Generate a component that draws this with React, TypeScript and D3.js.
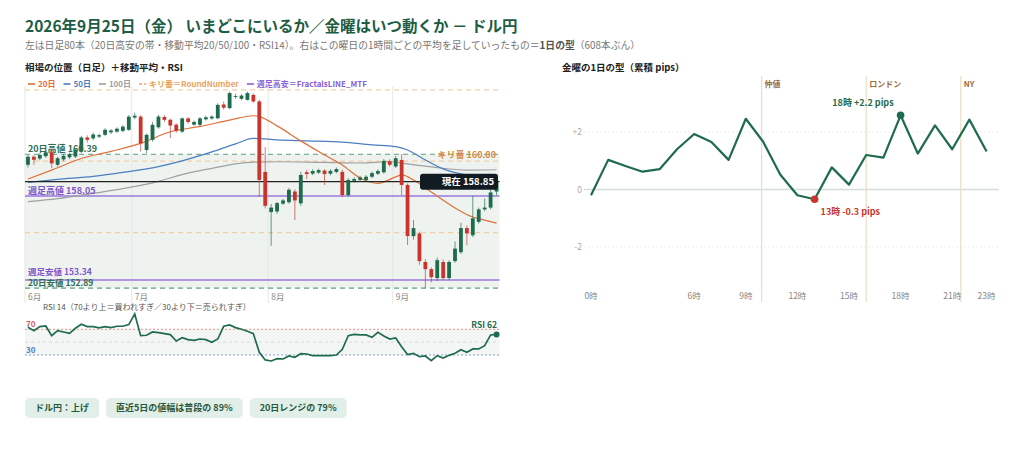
import * as d3 from "d3";

const FONT = "'Noto Sans CJK JP', 'Noto Sans', sans-serif";

// 日足80本 (6/8 〜 9/25)
const months = [
  { label: "6月", start: 0 },
  { label: "7月", start: 18 },
  { label: "8月", start: 41 },
  { label: "9月", start: 62 },
];

const opens = [
  159.8, 160.25, 160.15, 160.28, 160.5, 159.8, 160.1, 160.22, 160.26, 160.54,
  161.33, 161.28, 161.38, 161.48, 161.62, 161.66, 161.7, 161.76, 162.45, 162.5,
  160.63, 161.2, 161.9, 162.48, 162.32, 162.05, 161.66, 162.4, 162.05, 162.04,
  162.35, 162.4, 162.41, 163.18, 162.98, 163.6, 163.5, 163.44, 163.72, 163.35,
  159.4, 157.15, 157.18, 157.62, 157.7, 158.3, 157.64, 159.38, 159.3, 159.36,
  159.48, 159.3, 159.4, 159.4, 158.1, 158.9, 158.95, 158.95, 159.13, 159.3,
  159.38, 160.0, 159.7, 160.07, 158.67, 155.8, 155.95, 154.35, 153.95, 153.45,
  154.35, 153.45, 154.4, 154.9, 156.25, 155.85, 156.6, 157.3, 157.4, 158.3,
];
const highs = [
  160.35, 160.32, 160.45, 160.6, 160.62, 160.25, 160.4, 160.48, 160.72, 161.42,
  161.45, 161.6, 161.55, 161.85, 161.8, 161.9, 162.02, 162.58, 162.72, 162.58,
  161.55, 162.2, 162.6, 162.58, 162.38, 162.12, 162.45, 162.48, 162.28, 162.48,
  162.55, 162.58, 163.25, 163.35, 163.9, 163.78, 163.75, 163.9, 163.8, 163.45,
  160.8, 157.6, 157.72, 157.88, 158.5, 158.42, 159.4, 159.52, 159.55, 159.58,
  159.55, 159.55, 159.65, 159.52, 159.05, 159.1, 159.18, 159.22, 159.42, 159.55,
  160.12, 160.1, 160.3, 160.39, 158.75, 156.7, 156.05, 154.5, 154.05, 154.6,
  154.5, 154.45, 155.5, 156.55, 156.4, 158.05, 157.4, 157.9, 158.4, 159.0,
];
const lows = [
  159.65, 159.8, 160.05, 160.2, 159.6, 159.7, 160.0, 160.12, 160.18, 160.45,
  161.05, 161.18, 161.3, 161.4, 161.52, 161.58, 161.62, 161.7, 162.35, 160.54,
  160.46, 161.1, 161.82, 162.2, 161.3, 161.6, 161.58, 162.1, 161.98, 161.95,
  162.28, 162.32, 162.35, 162.9, 162.92, 163.5, 163.42, 163.4, 163.28, 158.0,
  157.35, 155.25, 157.05, 157.55, 157.62, 156.7, 157.5, 159.0, 159.22, 159.28,
  158.67, 159.2, 159.32, 158.0, 158.02, 158.8, 158.85, 158.88, 159.05, 159.22,
  159.3, 159.7, 159.62, 158.1, 155.3, 155.6, 154.2, 152.89, 153.2, 153.3,
  153.35, 153.34, 154.3, 154.8, 155.3, 155.75, 156.5, 157.2, 157.3, 158.1,
];
const closes = [
  160.25, 160.08, 160.35, 160.5, 159.88, 160.17, 160.3, 160.4, 160.63, 161.33,
  161.2, 161.5, 161.46, 161.76, 161.72, 161.82, 161.94, 162.5, 162.55, 161.0,
  161.48, 162.04, 162.5, 162.32, 162.0, 161.7, 162.4, 162.2, 162.2, 162.4,
  162.46, 162.5, 163.16, 163.0, 163.82, 163.65, 163.68, 163.82, 163.35, 158.95,
  157.5, 157.4, 157.65, 157.8, 158.4, 157.8, 159.23, 159.28, 159.45, 159.5,
  159.28, 159.46, 159.56, 158.1, 158.95, 159.0, 159.1, 159.13, 159.33, 159.45,
  160.02, 159.8, 160.17, 158.67, 155.8, 156.25, 154.4, 153.95, 153.5, 154.45,
  153.45, 154.35, 155.1, 156.25, 155.95, 156.8, 157.3, 157.4, 158.25, 158.85,
];

// 移動平均（画像から読んだ値: [本目, 値]）
const ma20 = [
  [0, 159.0], [4, 159.5], [9, 160.15], [14, 160.55], [19, 161.0], [24, 161.65],
  [29, 161.95], [34, 162.3], [38, 162.55], [39, 162.5], [42, 161.98], [46, 161.14],
  [50, 160.35], [53, 159.79], [56, 159.06], [59, 158.76], [62, 159.12], [63, 159.23],
  [65, 158.95], [68, 158.27], [72, 157.38], [75, 156.87], [77, 156.7], [79, 156.53],
];
const ma50 = [
  [0, 158.81], [5, 158.98], [11, 159.15], [16, 159.37], [22, 159.7], [26, 160.02],
  [31, 160.52], [35, 160.97], [38, 161.28], [42, 161.2], [47, 161.14], [53, 161.07],
  [58, 160.92], [62, 160.82], [64, 160.63], [67, 160.07], [70, 159.57], [73, 159.29],
  [76, 159.12], [79, 158.95],
];
const ma100 = [
  [0, 157.73], [5, 157.9], [11, 158.2], [16, 158.46], [22, 158.87], [26, 159.25],
  [31, 159.6], [35, 159.85], [38, 159.95], [42, 159.97], [50, 159.93], [56, 159.9],
  [61, 159.97], [64, 159.85], [67, 159.72], [70, 159.6], [74, 159.5], [79, 159.52],
];

const rsi = [
  73.1, 67.9, 74.2, 75.2, 60.1, 67.9, 65.8, 63.8, 71.6, 77.8,
  74.2, 74.2, 72.1, 74.2, 72.6, 74.7, 74.7, 77.3, 93.9, 60.1,
  60.7, 65.8, 64.8, 63.3, 61.7, 51.8, 57.0, 53.9, 52.9, 54.9,
  53.9, 49.8, 54.9, 74.7, 76.7, 72.6, 70.0, 66.9, 63.3, 34.2,
  22.3, 20.7, 24.3, 23.8, 28.5, 26.4, 32.1, 31.6, 29.0, 29.0,
  29.0, 29.0, 30.0, 38.9, 60.1, 62.2, 61.2, 61.2, 57.5, 65.3,
  59.6, 54.9, 56.5, 43.0, 30.6, 32.6, 27.4, 28.5, 21.2, 29.0,
  25.4, 29.5, 32.6, 38.3, 34.2, 39.4, 39.4, 44.6, 61.2, 62.0,
];

const current = 158.85;
const high20 = 160.39;
const low20 = 152.89;
const weeklyHigh = 158.05;
const weeklyLow = 153.34;
const roundNumbers = [156, 160, 164];

// 金曜の1日の型（累積 pips, 0時〜23時）
const hourPips = [
  -0.2, 1.03, 0.82, 0.62, 0.71, 1.4, 1.93, 1.65, 1.03, 2.46, 1.67, 0.52,
  -0.2, -0.34, 0.77, 0.17, 1.2, 1.11, 2.58, 1.25, 2.23, 1.4, 2.43, 1.32,
];
const hourTicks = [0, 6, 9, 12, 15, 18, 21, 23];
const pipTicks = [-2, 0, 2];
const sessions = [
  { label: "仲値", hour: 9.92 },
  { label: "ロンドン", hour: 16 },
  { label: "NY", hour: 21.5 },
];
const peakLabel = "18時 +2.2 pips";
const lowLabel = "13時 -0.3 pips";

const chips = ["ドル円：上げ", "直近5日の値幅は普段の 89%", "20日レンジの 79%"];

const legend = [
  { label: "20日", color: "#e0703a", dash: "" },
  { label: "50日", color: "#4a7fc0", dash: "" },
  { label: "100日", color: "#a0a0a0", dash: "" },
  { label: "キリ番＝RoundNumber", color: "#e9a45e", dash: "3,2" },
  { label: "週足高安＝FractalsLINE_MTF", color: "#8a5fd6", dash: "" },
];

const GREEN = "#1f6b4d";
const RED = "#c9352d";
const PURPLE = "#9b78e0";

let ctx: CanvasRenderingContext2D | null = null;
function textWidth(t: string, size: number, weight = "bold") {
  if (!ctx) ctx = document.createElement("canvas").getContext("2d");
  if (!ctx) return t.length * size;
  ctx.font = `${weight} ${size}px ${FONT}`;
  return ctx.measureText(t).width;
}

export default function App() {
  const x = d3
    .scaleBand<number>()
    .domain(closes.map((_, i) => i))
    .range([25, 499.5]);
  const bw = x.bandwidth();
  const cx = (i: number) => (x(i) ?? 0) + bw / 2;
  const y = d3.scaleLinear().domain([152.6, 164.2]).range([293.2, 86.3]);
  const ry = d3.scaleLinear().domain([0, 100]).range([374.3, 310]);
  const hx = d3.scaleLinear().domain([0, 23]).range([591, 986.6]);
  const hy = d3.scaleLinear().domain([-2, 2]).range([247, 132]);

  const left = 25;
  const right = 499.5;

  const maLine = d3
    .line<number[]>()
    .x(d => cx(d[0]))
    .y(d => y(d[1]))
    .curve(d3.curveMonotoneX);
  const rsiLine = d3
    .line<number>()
    .x((_, i) => cx(i))
    .y(d => ry(d));
  const pipLine = d3
    .line<number>()
    .x((_, i) => hx(i))
    .y(d => hy(d));

  const iMax = d3.maxIndex(hourPips);
  const iMin = d3.minIndex(hourPips);

  // legend layout
  let lx = 28;
  const legendItems = legend.map(l => {
    const item = { ...l, x: lx };
    lx += 7 + 3 + textWidth(l.label, 8) + 8;
    return item;
  });

  // chips layout
  let chx = 25;
  const chipItems = chips.map(c => {
    const w = textWidth(c, 9) + 20;
    const item = { text: c, x: chx, w };
    chx += w + 7;
    return item;
  });

  const nearestRound = roundNumbers.reduce((a, b) =>
    Math.abs(b - current) < Math.abs(a - current) ? b : a
  );

  return (
    <svg
      width={1024}
      height={462}
      style={{ position: "absolute", left: 0, top: 0, fontFamily: FONT }}
    >
      <rect width={1024} height={462} fill="#fff" />

      {/* titles */}
      <text x={25} y={32} fontSize={15.5} fontWeight="bold" fill="#1d5c45">
        2026年9月25日（金） いまどこにいるか／金曜はいつ動くか － ドル円
      </text>
      <text x={25} y={49} fontSize={9.8} fill="#777">
        左は日足80本（20日高安の帯・移動平均20/50/100・RSI14）。右はこの曜日の1時間ごとの平均を足していったもの＝
        <tspan fontWeight="bold" fill="#555">1日の型</tspan>（608本ぶん）
      </text>
      <text x={25} y={71} fontSize={9.5} fontWeight="bold" fill="#222">
        相場の位置（日足）＋移動平均・RSI
      </text>
      <text x={562} y={71} fontSize={9.5} fontWeight="bold" fill="#222">
        金曜の1日の型（累積 pips）
      </text>

      {/* legend */}
      {legendItems.map(l => (
        <g key={l.label}>
          <line
            x1={l.x}
            x2={l.x + 7}
            y1={84}
            y2={84}
            stroke={l.color}
            strokeWidth={1.6}
            strokeDasharray={l.dash || undefined}
          />
          <text x={l.x + 10} y={87} fontSize={8} fontWeight="bold" fill={l.color}>
            {l.label}
          </text>
        </g>
      ))}

      {/* 20日高安の帯 */}
      <rect
        x={left}
        y={y(high20)}
        width={right - left}
        height={y(low20) - y(high20)}
        fill="#eef3f0"
      />

      {/* month grid */}
      {months.map(m => (
        <g key={m.label}>
          <line
            x1={x(m.start)}
            x2={x(m.start)}
            y1={86}
            y2={303}
            stroke="#e6e6e6"
            strokeWidth={1}
          />
          <text x={(x(m.start) ?? 0) + 3} y={300} fontSize={8.5} fill="#888">
            {m.label}
          </text>
        </g>
      ))}

      {/* round numbers */}
      {roundNumbers.map(r => (
        <line
          key={r}
          x1={left}
          x2={right}
          y1={y(r)}
          y2={y(r)}
          stroke="#f3cfa6"
          strokeWidth={1.2}
          strokeDasharray="5,4"
        />
      ))}

      {/* 20日高安 */}
      {[high20, low20].map(v => (
        <line
          key={v}
          x1={left}
          x2={right}
          y1={y(v)}
          y2={y(v)}
          stroke="#5d9e80"
          strokeWidth={1.2}
          strokeDasharray="5,4"
        />
      ))}

      {/* 週足高安 */}
      {[weeklyHigh, weeklyLow].map(v => (
        <line
          key={v}
          x1={left}
          x2={right}
          y1={y(v)}
          y2={y(v)}
          stroke={PURPLE}
          strokeWidth={1.5}
        />
      ))}

      {/* moving averages */}
      <path d={maLine(ma100) ?? undefined} fill="none" stroke="#a0a0a0" strokeWidth={1.2} />
      <path d={maLine(ma50) ?? undefined} fill="none" stroke="#4a7fc0" strokeWidth={1.2} />
      <path d={maLine(ma20) ?? undefined} fill="none" stroke="#e0703a" strokeWidth={1.2} />

      {/* current price line */}
      <line
        x1={left}
        x2={right}
        y1={y(current)}
        y2={y(current)}
        stroke="#222"
        strokeWidth={1.2}
      />

      {/* candles */}
      {closes.map((c, i) => {
        const o = opens[i];
        const col = c >= o ? GREEN : RED;
        const top = y(Math.max(o, c));
        const h = Math.max(0.9, Math.abs(y(o) - y(c)));
        return (
          <g key={i}>
            <line
              x1={cx(i)}
              x2={cx(i)}
              y1={y(highs[i])}
              y2={y(lows[i])}
              stroke={col}
              strokeWidth={0.9}
              opacity={0.75}
            />
            <rect x={cx(i) - 1.9} y={top} width={3.8} height={h} fill={col} />
          </g>
        );
      })}

      {/* level labels */}
      <text x={28} y={152} fontSize={9} fontWeight="bold" fill="#2f6e55">
        20日高値 {high20.toFixed(2)}
      </text>
      <text x={28} y={193.5} fontSize={9} fontWeight="bold" fill="#7d55c8">
        週足高値 {weeklyHigh.toFixed(2)}
      </text>
      <text x={28} y={274.5} fontSize={8.5} fontWeight="bold" fill="#7d55c8">
        週足安値 {weeklyLow.toFixed(2)}
      </text>
      <text x={28} y={286} fontSize={8.5} fontWeight="bold" fill="#2f6e55">
        20日安値 {low20.toFixed(2)}
      </text>
      <text
        x={496}
        y={y(nearestRound) - 3}
        fontSize={9}
        fontWeight="bold"
        fill="#e08a3a"
        textAnchor="end"
      >
        キリ番 {nearestRound.toFixed(2)}
      </text>

      {/* current price tag */}
      <rect x={420} y={y(current) - 8} width={78} height={16} rx={3} fill="#121a22" />
      <text
        x={494}
        y={y(current) + 3.5}
        fontSize={9.5}
        fontWeight="bold"
        fill="#fff"
        textAnchor="end"
      >
        現在 {current.toFixed(2)}
      </text>

      {/* RSI panel */}
      <text x={43} y={310} fontSize={8} fill="#555">
        RSI 14（70より上＝買われすぎ／30より下＝売られすぎ）
      </text>
      <rect x={left} y={ry(70)} width={right - left} height={ry(30) - ry(70)} fill="#f3f6f4" />
      <line x1={left} x2={right} y1={ry(50)} y2={ry(50)} stroke="#d8d8d8" strokeDasharray="3,3" />
      <line x1={left} x2={right} y1={ry(70)} y2={ry(70)} stroke="#e58f8a" strokeWidth={1} strokeDasharray="2,2" />
      <line x1={left} x2={right} y1={ry(30)} y2={ry(30)} stroke="#7e9fd3" strokeWidth={1} strokeDasharray="2,2" />
      <text x={26} y={ry(70) - 2} fontSize={8} fontWeight="bold" fill="#d0605a">
        70
      </text>
      <text x={26} y={ry(30) - 2} fontSize={8} fontWeight="bold" fill="#5a80c0">
        30
      </text>
      <path d={rsiLine(rsi) ?? undefined} fill="none" stroke={GREEN} strokeWidth={1.7} />
      <circle cx={cx(rsi.length - 1)} cy={ry(rsi[rsi.length - 1])} r={3} fill={GREEN} />
      <text
        x={497}
        y={ry(rsi[rsi.length - 1]) - 6}
        fontSize={8.5}
        fontWeight="bold"
        fill={GREEN}
        textAnchor="end"
      >
        RSI {Math.round(rsi[rsi.length - 1])}
      </text>

      {/* right chart */}
      {pipTicks.map(t => (
        <g key={t}>
          <line
            x1={584}
            x2={999}
            y1={hy(t)}
            y2={hy(t)}
            stroke={t === 0 ? "#d2dfd9" : "#eeeeee"}
            strokeWidth={t === 0 ? 1.3 : 1}
            strokeDasharray={t === 0 ? undefined : "2,2"}
          />
          <text x={582} y={hy(t) + 3} fontSize={8.5} fill="#aaa" textAnchor="end">
            {t > 0 ? `+${t}` : `${t}`}
          </text>
        </g>
      ))}
      {sessions.map(s => (
        <g key={s.label}>
          <line
            x1={hx(s.hour)}
            x2={hx(s.hour)}
            y1={76}
            y2={302}
            stroke="#ebdcc7"
            strokeWidth={1.2}
          />
          <text
            x={hx(s.hour) + 3}
            y={87}
            fontSize={8}
            fontWeight="bold"
            fill="#9a6b3a"
          >
            {s.label}
          </text>
        </g>
      ))}
      <path d={pipLine(hourPips) ?? undefined} fill="none" stroke={GREEN} strokeWidth={2.2} strokeLinejoin="round" />
      <circle cx={hx(iMax)} cy={hy(hourPips[iMax])} r={3.8} fill={GREEN} />
      <circle cx={hx(iMin)} cy={hy(hourPips[iMin])} r={3.8} fill="#c8372d" />
      <text
        x={hx(iMax) - 7}
        y={hy(hourPips[iMax]) - 9}
        fontSize={9}
        fontWeight="bold"
        fill={GREEN}
        textAnchor="end"
      >
        {peakLabel}
      </text>
      <text
        x={hx(iMin) + 6}
        y={hy(hourPips[iMin]) + 16}
        fontSize={9}
        fontWeight="bold"
        fill="#c8372d"
      >
        {lowLabel}
      </text>
      {hourTicks.map(h => (
        <text key={h} x={hx(h)} y={299} fontSize={8.5} fill="#888" textAnchor="middle">
          {h}時
        </text>
      ))}

      {/* chips */}
      {chipItems.map(c => (
        <g key={c.text}>
          <rect x={c.x} y={398} width={c.w} height={20} rx={5} fill="#e2efe8" />
          <text x={c.x + 10} y={411.3} fontSize={9} fontWeight="bold" fill="#24583f">
            {c.text}
          </text>
        </g>
      ))}
    </svg>
  );
}
